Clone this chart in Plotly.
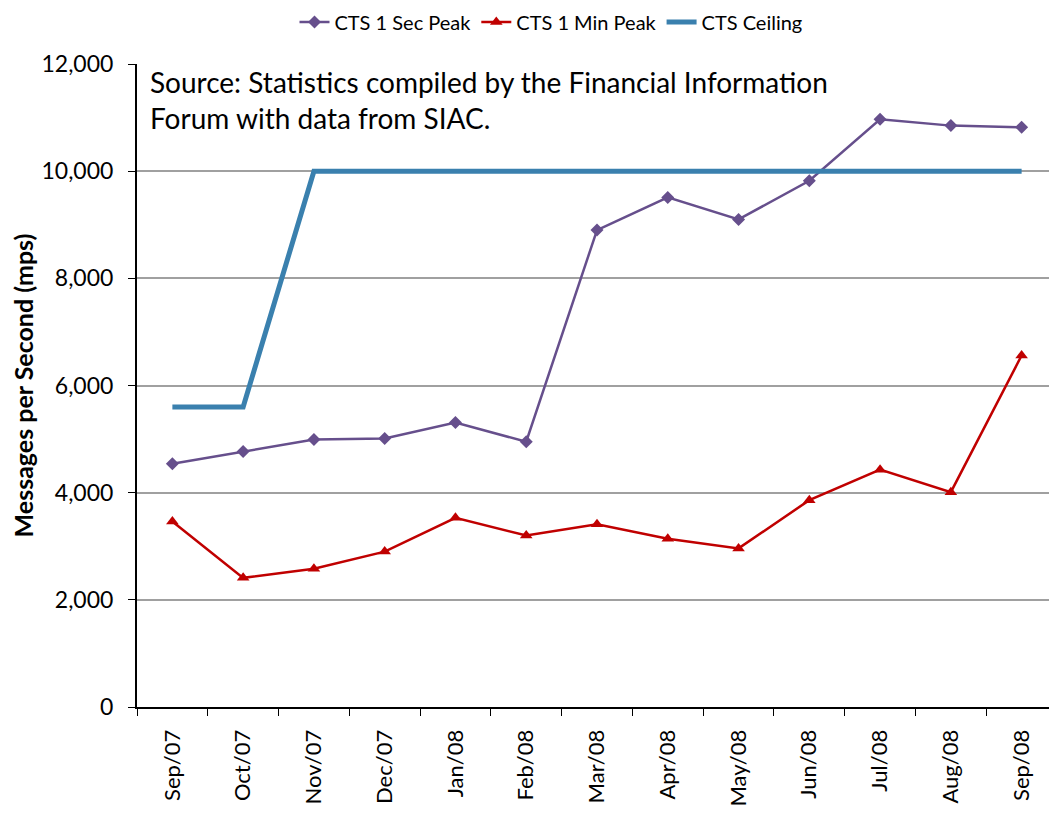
import plotly.graph_objects as go

categories = ["Sep/07", "Oct/07", "Nov/07", "Dec/07", "Jan/08", "Feb/08", "Mar/08",
              "Apr/08", "May/08", "Jun/08", "Jul/08", "Aug/08", "Sep/08"]
sec_peak = [4540, 4770, 4990, 5010, 5310, 4950, 8900, 9510, 9100, 9820, 10970, 10850, 10820]
min_peak = [3460, 2410, 2580, 2900, 3530, 3200, 3410, 3140, 2960, 3860, 4430, 4010, 6560]
ceiling = [5600, 5600, 10000, 10000, 10000, 10000, 10000, 10000, 10000, 10000, 10000, 10000, 10000]

FONT = "Lato"
W, H = 1049, 806  # page body has 8px default margin

fig = go.Figure()
fig.add_trace(go.Scatter(x=categories, y=sec_peak, name="CTS 1 Sec Peak", mode="lines+markers",
                         line=dict(color="#664F8C", width=2.5),
                         marker=dict(symbol="diamond", size=10, color="#664F8C")))
fig.add_trace(go.Scatter(x=categories, y=min_peak, name="CTS 1 Min Peak", mode="lines+markers",
                         line=dict(color="#C00000", width=2.5),
                         marker=dict(symbol="triangle-up", size=11, color="#C00000")))
fig.add_trace(go.Scatter(x=categories, y=ceiling, name="CTS Ceiling", mode="lines",
                         line=dict(color="#3A80AE", width=5)))

fig.add_annotation(text="Source: Statistics compiled by the Financial Information<br>Forum with data from SIAC.",
                   xref="paper", yref="paper", x=0.0, y=1.0, xanchor="left", yanchor="top",
                   xshift=11, yshift=1,
                   align="left", showarrow=False, font=dict(family=FONT, size=28, color="black"))

fig.update_layout(
    width=W, height=H,
    margin=dict(l=129, r=0, t=56, b=107),
    paper_bgcolor="white", plot_bgcolor="white",
    font=dict(family=FONT, color="black"),
    showlegend=True,
    legend=dict(orientation="h", x=543 / W, xref="container", xanchor="center",
                y=1 - 14 / H, yref="container", yanchor="middle",
                font=dict(family=FONT, size=20), traceorder="normal"),
    xaxis=dict(type="category", range=[-0.5, 12.5], tickson="boundaries", ticks="outside", ticklen=7,
               tickcolor="black", tickangle=-90, showline=True, linecolor="black", linewidth=2,
               showgrid=False, tickfont=dict(family=FONT, size=22), ticklabelstandoff=12),
    yaxis=dict(range=[0, 12000], dtick=2000, tickformat=",d", ticks="outside", ticklen=7,
               tickcolor="black", showline=True, linecolor="black", linewidth=2,
               showgrid=True, gridcolor="#A0A0A0", gridwidth=1.5, zeroline=False,
               tickfont=dict(family=FONT, size=23), ticklabelstandoff=10,
               title=dict(text="<b>Messages per Second (mps)</b>", font=dict(family=FONT, size=25), standoff=1)),
)

fig.write_html("out.html")
